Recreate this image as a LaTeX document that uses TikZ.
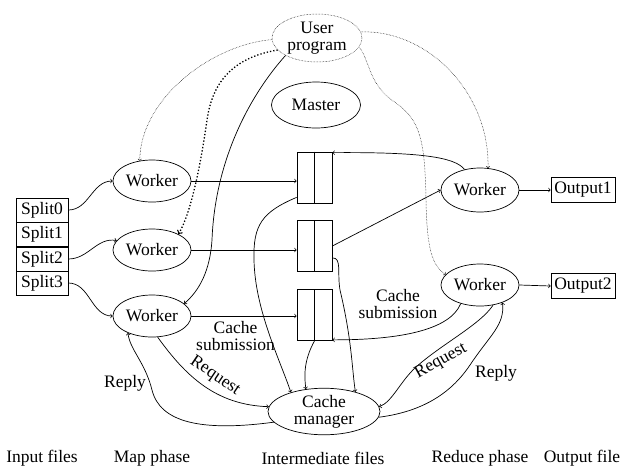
\documentclass[tikz,border=0pt]{standalone}
\usepackage{fontspec}
\setmainfont{Liberation Serif}
\usetikzlibrary{shapes.geometric}
\begin{document}
\begin{tikzpicture}[x=1pt,y=-1pt,line width=0.7pt,
  every node/.style={font=\fontsize{17.5}{17}\selectfont},
  ell/.style={draw,ellipse,inner sep=0pt,minimum width=78pt,minimum height=42pt,align=center},
  cell/.style={draw,rectangle,inner sep=0pt,minimum width=52pt,minimum height=24pt},
  outbox/.style={draw,rectangle,inner sep=0pt,minimum width=64pt,minimum height=25pt},
  qbox/.style={draw,rectangle,inner sep=0pt,minimum width=35pt,minimum height=51pt},
  arr/.style={->},
  thindot/.style={->,densely dotted,line width=0.5pt},
  thickdot/.style={->,dotted,line width=1.3pt},
  lbl/.style={align=center,inner sep=0pt}]
\useasboundingbox (0,0) rectangle (633,467);

% ellipses
\node[ell,densely dotted,line width=0.5pt,minimum width=90pt,minimum height=48pt] (up) at (317,38) {User\\program};
\node[ell,minimum width=89pt,minimum height=46pt] (ms) at (316,105) {Master};
\node[ell] (w1) at (152,181) {Worker};
\node[ell] (w2) at (152,250) {Worker};
\node[ell] (w3) at (152,316) {Worker};
\node[ell,minimum height=44pt] (wr1) at (480,190) {Worker};
\node[ell] (wr2) at (480,285) {Worker};
\node[ell,minimum width=112pt,minimum height=41pt] (cm) at (324,411.5) {Cache\\manager};

% splits
\node[cell] (s0) at (42,210) {Split0};
\node[cell] (s1) at (42,234.5) {Split1};
\node[cell] (s2) at (42,259) {Split2};
\node[cell] (s3) at (42,283) {Split3};

% outputs
\node[outbox] (o1) at (583,190) {Output1};
\node[outbox] (o2) at (583,286) {Output2};

% intermediate boxes
\node[qbox] (b1) at (314.5,177.5) {};
\node[qbox] (b2) at (314.5,246) {};
\node[qbox] (b3) at (314.5,315) {};
\draw (b1.north) -- (b1.south);
\draw (b2.north) -- (b2.south);
\draw (b3.north) -- (b3.south);

% split -> workers
\draw[arr] (s0.east) to[out=0,in=180] (w1.west);
\draw[arr] (s2.east) to[out=0,in=170] (w2.165);
\draw[arr] (s3.east) to[out=0,in=180] (w3.west);

% workers -> boxes
\draw[arr] (w1.east) -- (w1.east -| b1.west);
\draw[arr] (w2.east) -- (w2.east -| b2.west);
\draw[arr] (w3.east) -- (w3.east -| b3.west)
  node[pos=0.42,below=5pt,lbl] (cs1) {Cache\\submission};

% user program -> workers
\draw[thindot] (up.182) .. controls (210,45) and (140,100) .. (w1.121);
\draw[thickdot] (up.197) .. controls (230,58) and (212,85) .. (207,120)
  .. controls (200,170) and (190,215) .. (w2.31);
\draw[arr] (up.209) .. controls (250,95) and (215,160) .. (212,240)
  .. controls (210,270) and (200,290) .. (w3.21);
\draw[thindot] (up.8) .. controls (430,30) and (490,95) .. (wr1.70);
\draw[thindot] (up.-12) .. controls (370,60) and (368,85) .. (396,103)
  .. controls (420,120) and (425,140) .. (426,200)
  .. controls (427,250) and (432,265) .. (wr2.163);

% reduce side
\draw[arr] (wr1.127) .. controls (455,157) and (420,152) .. ([yshift=-1pt]b1.north east);
\draw[arr] (b2.east) -- (wr1.west);
\draw[arr] (wr2.224) .. controls (450,330) and (400,340) .. ([yshift=1pt]b3.south east);
\node[lbl] (cs2) at (398,304) {Cache\\submission};
\draw[arr] (wr1.east) -- (o1.west);
\draw[arr] (wr2.east) -- (o2.west);

% boxes -> cache manager
\draw[arr] ([yshift=6pt]b1.south west) .. controls (262,212) and (253,225) .. (254,260)
  .. controls (255,310) and (280,360) .. (cm.150);
\draw[arr] ([yshift=14pt]b2.south east) .. controls (342,258) and (337,272) .. (340,290)
  .. controls (352,340) and (352,370) .. (cm.32);
\draw[arr] (b3.south) .. controls (304,360) and (304,375) .. (cm.129);

% request / reply left
\draw[arr] (w3.-75) .. controls (185,375) and (215,405) .. (cm.175);
\node[lbl,rotate=-34] (rq1) at (215,376) {Request};
\draw[arr] (cm.192) .. controls (200,432) and (160,422) .. (152,390)
  .. controls (145,362) and (130,350) .. (w3.215);
\node[lbl] (rp1) at (125,383) {Reply};

% request / reply right
\draw[arr] (wr2.-57) .. controls (480,325) and (440,345) .. (415,368)
  .. controls (400,382) and (392,402) .. (cm.5);
\node[lbl,rotate=29] (rq2) at (441,361) {Request};
\draw[arr] (cm.-6) .. controls (420,412) and (450,395) .. (470,365)
  .. controls (490,335) and (505,325) .. (wr2.-38);
\node[lbl] (rp2) at (496,373) {Reply};

% bottom labels
\node (l1) at (42,458) {Input files};
\node (l2) at (152,458) {Map phase};
\node (l3) at (323,458) {Intermediate files};
\node (l4) at (480,458) {Reduce phase};
\node (l5) at (582,458) {Output file};
\end{tikzpicture}
\end{document}
